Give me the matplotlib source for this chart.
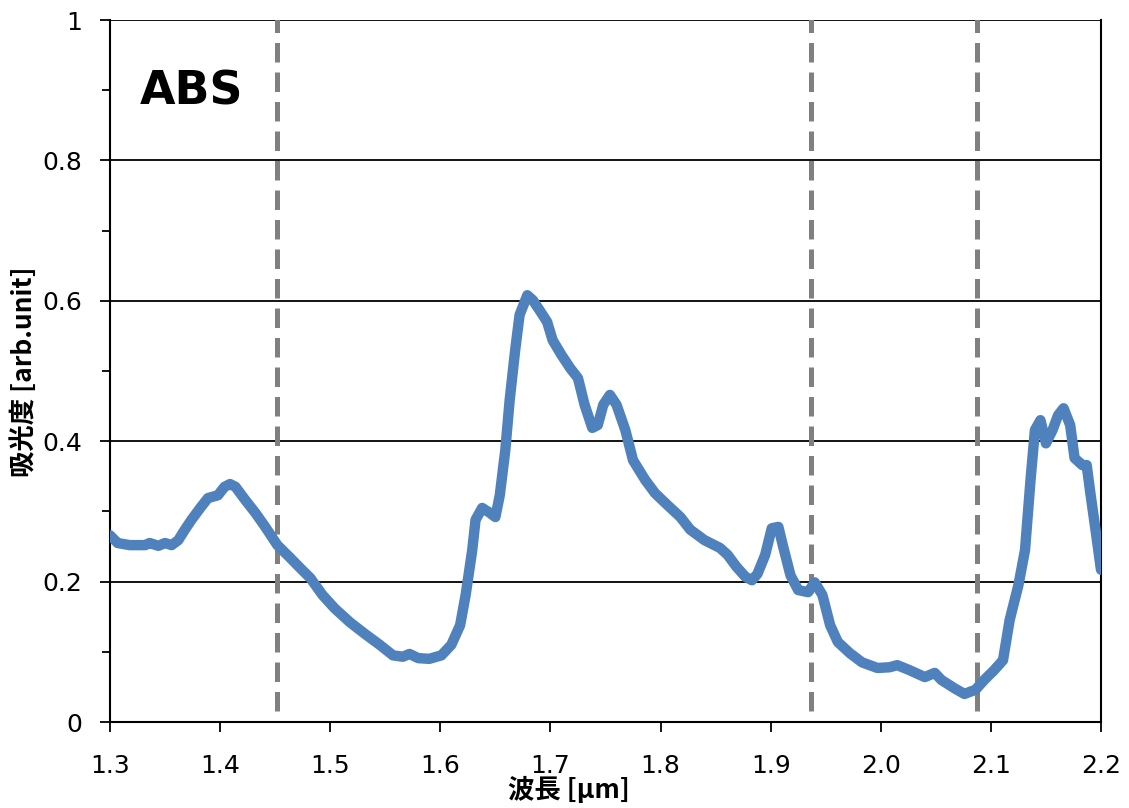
import matplotlib.pyplot as plt
from matplotlib.ticker import MultipleLocator, FormatStrFormatter, FuncFormatter

plt.rcParams.update({'font.family': ['DejaVu Sans'],
                     'xtick.labelsize': 18,
                     'ytick.labelsize': 18})

# absorbance spectrum of ABS
wavelength = [1.300, 1.307, 1.318, 1.332, 1.336, 1.344, 1.350, 1.356, 1.362, 1.368,
              1.374, 1.382, 1.389, 1.398, 1.404, 1.409, 1.414, 1.423, 1.432, 1.441,
              1.452, 1.463, 1.473, 1.482, 1.493, 1.504, 1.518, 1.532, 1.545, 1.557,
              1.566, 1.572, 1.580, 1.590, 1.601, 1.610, 1.618, 1.623, 1.629, 1.632,
              1.638, 1.645, 1.650, 1.654, 1.659, 1.663, 1.668, 1.672, 1.679, 1.684,
              1.690, 1.697, 1.702, 1.710, 1.718, 1.725, 1.731, 1.738, 1.743, 1.748,
              1.754, 1.760, 1.768, 1.775, 1.786, 1.795, 1.807, 1.818, 1.827, 1.840,
              1.854, 1.861, 1.869, 1.877, 1.883, 1.888, 1.895, 1.901, 1.907, 1.911,
              1.918, 1.925, 1.934, 1.940, 1.947, 1.954, 1.961, 1.972, 1.983, 1.997,
              2.008, 2.015, 2.026, 2.040, 2.049, 2.055, 2.067, 2.076, 2.086, 2.094,
              2.103, 2.111, 2.117, 2.125, 2.131, 2.136, 2.140, 2.145, 2.150, 2.156,
              2.161, 2.166, 2.172, 2.176, 2.183, 2.187, 2.190, 2.195, 2.200]
absorbance = [0.266, 0.255, 0.252, 0.252, 0.255, 0.251, 0.255, 0.252, 0.259, 0.274,
              0.288, 0.305, 0.319, 0.323, 0.335, 0.339, 0.335, 0.316, 0.298, 0.278,
              0.252, 0.235, 0.219, 0.205, 0.181, 0.162, 0.142, 0.125, 0.110, 0.095,
              0.093, 0.097, 0.091, 0.090, 0.095, 0.110, 0.138, 0.181, 0.245, 0.288,
              0.305, 0.298, 0.292, 0.323, 0.387, 0.459, 0.530, 0.580, 0.608, 0.601,
              0.587, 0.570, 0.544, 0.523, 0.504, 0.490, 0.452, 0.419, 0.423, 0.452,
              0.466, 0.452, 0.416, 0.373, 0.345, 0.326, 0.308, 0.292, 0.274, 0.259,
              0.248, 0.238, 0.221, 0.207, 0.202, 0.211, 0.238, 0.276, 0.278, 0.252,
              0.209, 0.188, 0.185, 0.199, 0.181, 0.138, 0.114, 0.098, 0.085, 0.077,
              0.078, 0.081, 0.074, 0.064, 0.070, 0.060, 0.048, 0.040, 0.046, 0.060,
              0.074, 0.088, 0.145, 0.195, 0.245, 0.345, 0.416, 0.430, 0.397, 0.416,
              0.437, 0.447, 0.423, 0.376, 0.366, 0.366, 0.330, 0.274, 0.217]

# marker wavelengths
peaks = [1.452, 1.937, 2.087]

fig = plt.figure(figsize=(11.29, 8.08), dpi=100)
ax = fig.add_axes([0.0974, 0.1064, 0.8778, 0.8688])

for p in peaks:
    ax.plot([p, p], [0.015, 1.003], color='#808080', lw=3.6,
            dashes=(3.9, 2.0), zorder=3, solid_capstyle='butt')

ax.plot(wavelength, absorbance, color='#4F81BD', lw=7.5,
        solid_capstyle='round', solid_joinstyle='round', zorder=4)

ax.set_xlim(1.3, 2.2)
ax.set_ylim(0, 1)
ax.xaxis.set_major_locator(MultipleLocator(0.1))
ax.xaxis.set_major_formatter(FormatStrFormatter('%.1f'))
ax.yaxis.set_major_locator(MultipleLocator(0.2))
ax.yaxis.set_minor_locator(MultipleLocator(0.1))
ax.yaxis.set_major_formatter(FuncFormatter(lambda v, pos: '%g' % round(v, 1)))
ax.tick_params(axis='both', which='major', direction='out', length=7,
               width=1.3)
ax.tick_params(axis='x', which='major', pad=16)
ax.tick_params(axis='y', which='major', pad=13)
ax.tick_params(axis='y', which='minor', direction='out', length=6, width=1.3)

ax.grid(axis='y', color='black', lw=1.3, zorder=1)
ax.spines['top'].set_visible(False)
for s in ['left', 'bottom', 'right']:
    ax.spines[s].set_linewidth(1.5)

ax.text(1.327, 0.897, 'ABS', fontsize=33, fontweight='bold', va='center', ha='left')

fig.text(0.504, 0.022, '波長 [μm]', fontsize=19, fontweight='bold',
         family=['Noto Sans CJK JP', 'DejaVu Sans'], ha='center', va='center')
fig.text(0.022, 0.54, '吸光度 [arb.unit]', fontsize=19, fontweight='bold',
         family=['Noto Sans CJK JP', 'DejaVu Sans'], ha='center', va='center',
         rotation=90)

fig.savefig('out.png', dpi=100)
